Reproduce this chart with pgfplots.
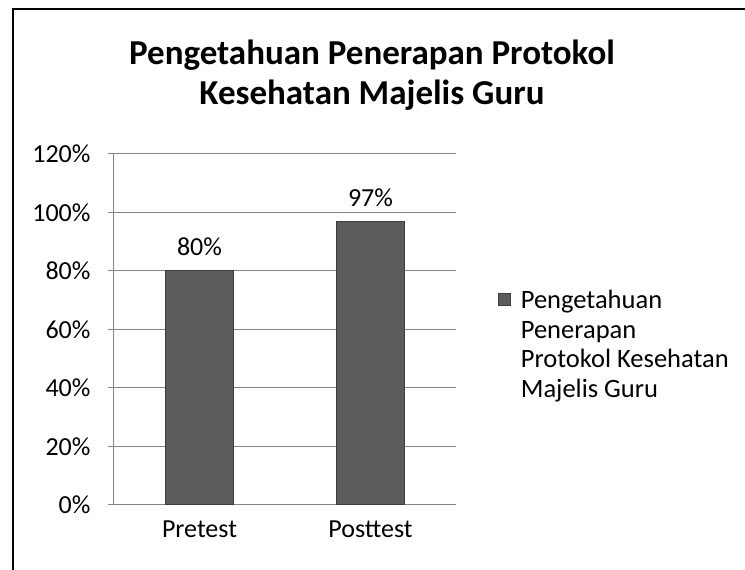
\documentclass[border=0pt]{standalone}
\usepackage{pgfplots}
\pgfplotsset{compat=1.18}
\usepackage{fontspec}
\setmainfont{Carlito}
\definecolor{barfill}{RGB}{92,92,92}
\definecolor{baredge}{RGB}{60,60,60}
\definecolor{gridgray}{RGB}{134,134,134}
\begin{document}
\begin{tikzpicture}[x=1pt,y=1pt]
\path[use as bounding box] (0,0) rectangle (745,570);
\draw[line width=2.2pt] (13,0) -- (13,561) -- (746,561);
\node[anchor=base, align=center, font=\fontsize{35}{40}\selectfont\bfseries] at (372,465) {Pengetahuan Penerapan Protokol\\Kesehatan Majelis Guru};
\begin{axis}[
  at={(114pt,65pt)}, anchor=south west,
  width=342pt, height=351pt, scale only axis,
  ybar, bar width=68pt,
  xmin=-0.5, xmax=1.5, ymin=0, ymax=120,
  xtick={0,1}, xticklabels={Pretest,Posttest},
  extra x ticks={-0.5,0.5,1.5}, extra x tick labels={},
  extra x tick style={major tick length=8pt, tick style={gridgray, line width=1pt}, grid=none},
  ytick={0,20,40,60,80,100,120},
  yticklabels={0\%,20\%,40\%,60\%,80\%,100\%,120\%},
  ymajorgrids, grid style={gridgray, line width=1pt},
  axis line style={gridgray, line width=1pt},
  axis x line*=bottom, axis y line*=left,
  tick align=outside,
  xtick style={draw=none},
  ytick style={gridgray, line width=1pt},
  major tick length=6pt,
  ticklabel style={font=\fontsize{26}{30}\selectfont},
  yticklabel style={xshift=-14pt},
  xticklabel style={yshift=-6pt},
  /pgf/number format/assume math mode=true,
  nodes near coords={\pgfmathprintnumber{\pgfplotspointmeta}\%},
  every node near coord/.append style={font=\fontsize{26}{30}\selectfont, anchor=base, yshift=15pt, black},
  legend style={draw=none, fill=none, at={(1.123,0.624)}, anchor=north west, font=\fontsize{26.5}{29.5}\selectfont, inner sep=0pt, row sep=0pt},
  legend cell align=left,
  legend image code/.code={\draw[fill=barfill, draw=baredge, line width=0.6pt] (0pt,-6pt) rectangle (12pt,6pt);},
]
\addplot[fill=barfill, draw=baredge, line width=1pt] coordinates {(0,80) (1,97)};
\addlegendentry{\begin{tabular}[t]{@{\hspace{8pt}}l@{}}Pengetahuan\\Penerapan\\Protokol Kesehatan\\Majelis Guru\end{tabular}}
\end{axis}
\end{tikzpicture}
\end{document}
